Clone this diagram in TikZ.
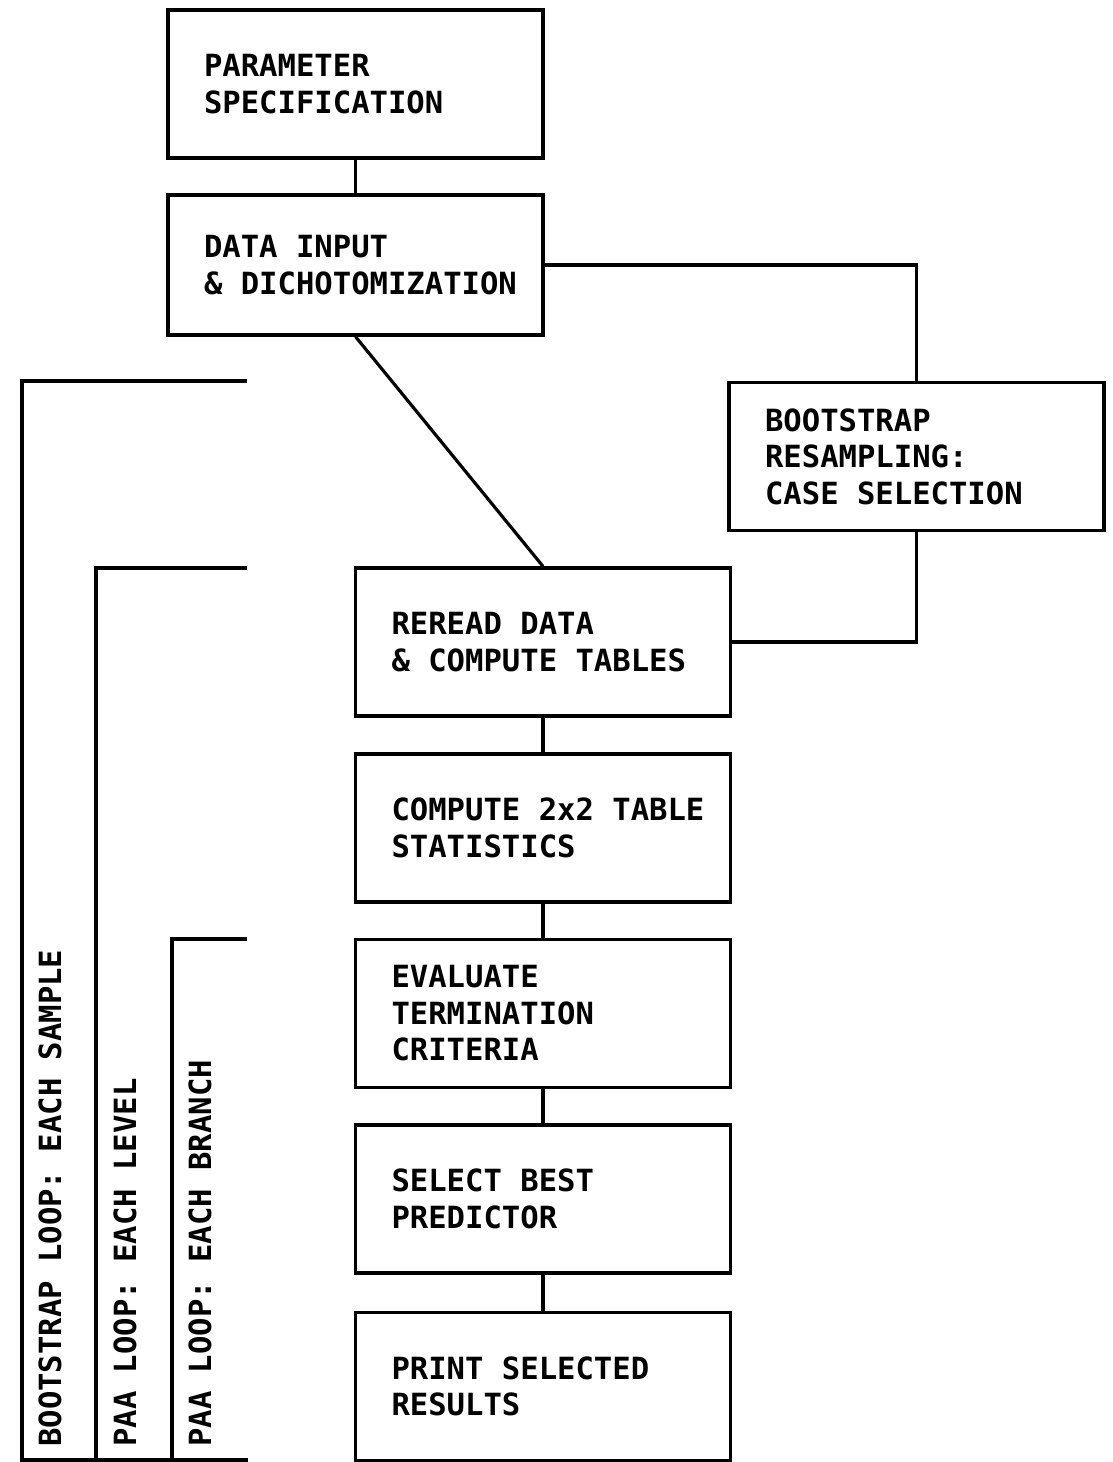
\documentclass[tikz,border=0pt]{standalone}
\usepackage{fontspec}
\newfontfamily\plotter{DejaVu Sans Mono}
\usetikzlibrary{positioning}

\begin{document}
\begin{tikzpicture}[x=0.02cm, y=-0.02cm,
  font=\plotter\bfseries\fontsize{17.4pt}{20.8pt}\selectfont,
  every node/.append style={execute at begin node={\spaceskip=0.602em\relax}},
  stepbox/.style={draw, line width=1.9pt, minimum height=2.96cm, text width=6.06cm, inner xsep=0.72cm, align=left},
  link/.style={line width=1.8pt},
  loopline/.style={line width=2.4pt},
  looplabel/.style={rotate=90, anchor=west, inner sep=0pt}]
  \useasboundingbox (0,0) rectangle (1112,1462);
  % main column of steps
  \node (param) [stepbox] at (355.5,84) {PARAMETER\\SPECIFICATION};
  \node (input) [stepbox, minimum height=2.8cm] at (355.5,265) {DATA INPUT\\\mbox{\& DICHOTOMIZATION}};
  \node (boot) [stepbox] at (916.5,456.5) {BOOTSTRAP\\RESAMPLING:\\CASE SELECTION};
  \node (reread) [stepbox] at (543,642) {REREAD DATA\\\mbox{\& COMPUTE TABLES}};
  \node (compute) [stepbox] at (543,828) {\mbox{COMPUTE 2x2 TABLE}\\STATISTICS};
  \node (evaluate) [stepbox] at (543,1013.5) {EVALUATE\\TERMINATION\\CRITERIA};
  \node (select) [stepbox] at (543,1199) {SELECT BEST\\PREDICTOR};
  \node (print) [stepbox] at (543,1386.5) {PRINT SELECTED\\RESULTS};
  % connections
  \draw[link] (param) -- (input);
  \draw[link] (input.east) -| (boot.north);
  \draw[link] (boot.south) |- (reread.east);
  \draw[link] (input.south) -- (reread.north);
  \draw[link] (reread) -- (compute);
  \draw[link] (compute) -- (evaluate);
  \draw[link] (evaluate) -- (select);
  \draw[link] (select) -- (print);
  % loop brackets
  \coordinate (bs top) at (247,381);
  \coordinate (bs foot) at (22,1460);
  \coordinate (bs end) at (248,1460);
  \coordinate (lv top) at (247,568);
  \coordinate (lv foot) at (96,1460);
  \coordinate (br top) at (247,939);
  \coordinate (br foot) at (172,1460);
  \draw[loopline] (bs top) -| (bs foot) -- (bs end);
  \draw[loopline] (lv top) -| (lv foot);
  \draw[loopline] (br top) -| (br foot);
  \node (bs label) [looplabel] at (50,1447) {BOOTSTRAP LOOP: EACH SAMPLE};
  \node (lv label) [looplabel] at (125,1447) {PAA LOOP: EACH LEVEL};
  \node (br label) [looplabel] at (200,1447) {PAA LOOP: EACH BRANCH};
\end{tikzpicture}
\end{document}
